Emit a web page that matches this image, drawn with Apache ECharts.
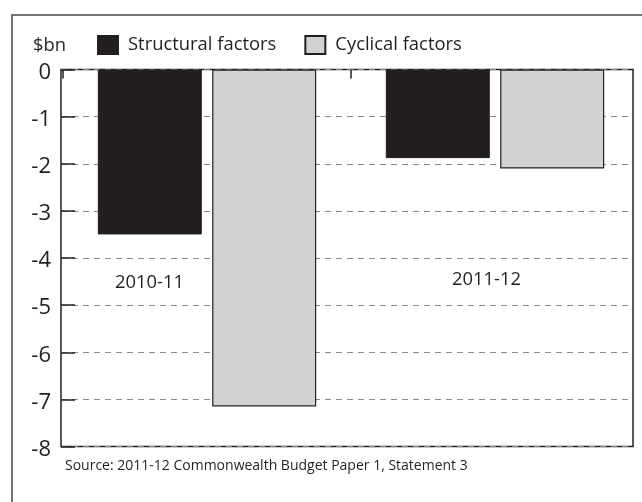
<!DOCTYPE html>
<html><head><meta charset="utf-8">
<script src="https://cdn.jsdelivr.net/npm/echarts@6/dist/echarts.min.js"></script>
<style>html,body{margin:0;padding:0;background:#fff}#c{width:642px;height:502px}</style>
</head><body><div id="c"></div>
<script>
var categories = ['2010-11', '2011-12'];
var structural = [-3.5, -1.88];
var cyclical = [-7.15, -2.1];
var yTicks = [0, -1, -2, -3, -4, -5, -6, -7, -8];
var seriesNames = ['Structural factors', 'Cyclical factors'];
var unitLabel = '$bn';
var sourceText = 'Source: 2011-12 Commonwealth Budget Paper 1, Statement 3';

var FONT = 'Open Sans';
var chart = echarts.init(document.getElementById('c'), null, {renderer: 'canvas'});
var option = {
  animation: false,
  backgroundColor: '#fff',
  textStyle: {fontFamily: FONT},
  grid: [
    {left: 63, width: 576, top: 69.5, bottom: 55.5, show: false},
    {left: 61, right: 9, top: 69.5, bottom: 55.5, show: true, borderColor: '#231f20', borderWidth: 1.5, backgroundColor: 'transparent'}
  ],
  legend: {
    left: 97, top: 35, padding: 0, itemWidth: 20, itemHeight: 18, itemGap: 28,
    textStyle: {fontFamily: FONT, fontSize: 18.4, color: '#231f20', padding: [3, 0, 0, 5]},
    data: seriesNames.map(function (n) { return {name: n, icon: 'rect'}; })
  },
  xAxis: [
    {gridIndex: 0, type: 'category', data: categories, position: 'top',
     axisLine: {show: false},
     axisTick: {show: true, inside: true, length: 9, lineStyle: {color: '#231f20', width: 1.5}},
     axisLabel: {show: false}, splitLine: {show: false}},
    {gridIndex: 1, type: 'value', show: false}
  ],
  yAxis: [
    {gridIndex: 0, type: 'value', min: -8, max: 0, interval: 1, show: false, splitLine: {show: false}},
    {gridIndex: 1, type: 'value', min: -8, max: 0, interval: 1,
     axisLine: {show: false},
     axisTick: {show: true, inside: true, length: 14, lineStyle: {color: '#231f20', width: 1.5}},
     axisLabel: {fontFamily: FONT, fontSize: 22, color: '#231f20', margin: 10, verticalAlign: 'top', lineHeight: 6},
     splitLine: {show: true, lineStyle: {color: '#8a8a8a', type: [6, 5], width: 1}}}
  ],
  series: [
    {name: seriesNames[0], type: 'bar', xAxisIndex: 0, yAxisIndex: 0, data: structural,
     barWidth: 104, barGap: '10%',
     itemStyle: {color: '#231f20', borderColor: '#231f20', borderWidth: 1}},
    {name: seriesNames[1], type: 'bar', xAxisIndex: 0, yAxisIndex: 0, data: cyclical,
     barWidth: 104, barGap: '10%',
     itemStyle: {color: '#d1d2d4', borderColor: '#231f20', borderWidth: 1.2}}
  ],
  graphic: [
    {type: 'rect', shape: {x: 12, y: 15, width: 640, height: 600}, silent: true, z: -10,
     style: {fill: 'none', stroke: '#4a4a4a', lineWidth: 1.5}},
    {type: 'rect', shape: {x: 634, y: 68, width: 10, height: 14}, silent: true, z: 100,
     style: {fill: '#fff'}},
    {type: 'text', left: 33, top: 37, style: {text: unitLabel, fontFamily: FONT, fontSize: 18.4, fill: '#231f20'}},
    {type: 'text', x: 149.5, y: 283, style: {text: categories[0], fontFamily: FONT, fontSize: 18.4, fill: '#231f20', align: 'center', verticalAlign: 'middle'}},
    {type: 'text', x: 486.5, y: 280, style: {text: categories[1], fontFamily: FONT, fontSize: 18.4, fill: '#231f20', align: 'center', verticalAlign: 'middle'}},
    {type: 'text', x: 65, y: 466, style: {text: sourceText, fontFamily: FONT, fontSize: 14, fill: '#231f20', verticalAlign: 'middle'}}
  ]
};
chart.setOption(option);
</script>
</body></html>
